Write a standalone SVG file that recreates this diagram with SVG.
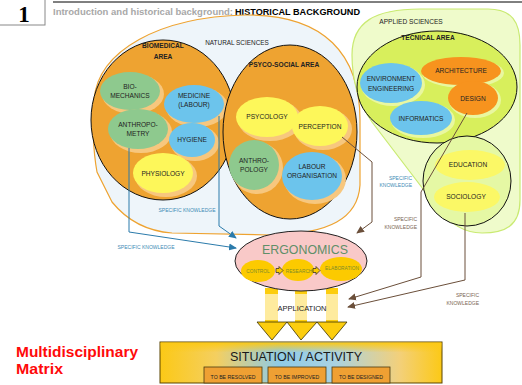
<svg xmlns="http://www.w3.org/2000/svg" width="522" height="385" viewBox="0 0 522 385">
<defs>
<style>
.t{font-family:"Liberation Sans",Arial,sans-serif;fill:#222;text-anchor:middle}
.n{font-size:6.6px}
.b{font-weight:bold}
.sk{font-family:"Liberation Sans",Arial,sans-serif;font-size:5px}
.blue{fill:#3d8bb5}
.brn{fill:#7a6552}
.bl{stroke:#2b7bab;stroke-width:1;fill:none}
.br{stroke:#6b4f3a;stroke-width:1;fill:none}
.area{fill:#eea331;stroke:#111;stroke-width:1}
.g{fill:#8ec98e}
.bu{fill:#6cc4ec}
.y{fill:#fdf75a}
.o{fill:#f7931e}
.halo{fill:#f7c77e}
.haloG{fill:#e9f7a0}
.sub{fill:#efa033;stroke:#4a3a10;stroke-width:0.8}
.et{font-family:"Liberation Sans",Arial,sans-serif;font-size:4.8px;fill:#7d8a2a;text-anchor:middle}
</style>
<marker id="ab" markerWidth="8" markerHeight="8" refX="7" refY="4" orient="auto" markerUnits="userSpaceOnUse"><path d="M0,0.5 L8,4 L0,7.5 Z" fill="#2b7bab"/></marker>
<marker id="aw" markerWidth="8" markerHeight="8" refX="7" refY="4" orient="auto" markerUnits="userSpaceOnUse"><path d="M0,0.5 L8,4 L0,7.5 Z" fill="#6b4f3a"/></marker>
<linearGradient id="sit" x1="0" y1="0" x2="1" y2="0">
<stop offset="0" stop-color="#fcc916"/>
<stop offset="0.2" stop-color="#f4cf60"/>
<stop offset="0.42" stop-color="#8fcbe6"/>
<stop offset="0.62" stop-color="#a9d2e2"/>
<stop offset="0.85" stop-color="#f3d07a"/>
<stop offset="1" stop-color="#fcc916"/>
</linearGradient>
<linearGradient id="sitv" x1="0" y1="0" x2="0" y2="1">
<stop offset="0" stop-color="#fcc916" stop-opacity="1"/>
<stop offset="1" stop-color="#fcc916" stop-opacity="0"/>
</linearGradient>
</defs>
<rect width="522" height="385" fill="#fff"/>

<!-- header -->
<g id="header">
<rect x="-1" y="-1" width="46" height="26" fill="#fff" stroke="#888" stroke-width="1"/>
<text x="24" y="22" font-family="Liberation Serif,serif" font-weight="bold" font-size="23" text-anchor="middle" fill="#000">1</text>
<line x1="53" y1="2" x2="522" y2="2" stroke="#000" stroke-width="1"/>
<text x="53" y="15" font-family="Liberation Sans,Arial,sans-serif" font-weight="bold" font-size="8.5" fill="#a8a8a8" textLength="180" lengthAdjust="spacingAndGlyphs">Introduction and historical background:</text>
<text x="235" y="15" font-family="Liberation Sans,Arial,sans-serif" font-weight="bold" font-size="8.5" fill="#000" textLength="125" lengthAdjust="spacingAndGlyphs">HISTORICAL BACKGROUND</text>
</g>

<!-- natural sciences -->
<g id="natural-sciences">
<path d="M94,100 C98,50 160,17 245,15 C325,14 360,55 360,120 L360,185 C358,218 330,234 270,235 L172,233 C145,231 125,218 112,202 L97,172 C93,150 92,120 94,100 Z" fill="#eef5fa" stroke="#eea331" stroke-width="1.2"/>
<text class="t n" x="237" y="45" style="font-size:6.4px">NATURAL SCIENCES</text>
</g>

<g id="biomedical-area">
<ellipse class="area" cx="163" cy="120" rx="72" ry="80"/>
<text class="t n b" x="163" y="48">BIOMEDICAL</text>
<text class="t n b" x="163" y="59">AREA</text>
</g>
<g id="biomechanics"><ellipse class="halo" cx="133" cy="94" rx="31" ry="20"/><ellipse class="g" cx="130" cy="91" rx="30" ry="19"/><text class="t n" x="130" y="89">BIO-</text><text class="t n" x="130" y="98">MECHANICS</text></g>
<g id="medicine"><ellipse class="halo" cx="197" cy="107" rx="31" ry="20"/><ellipse class="bu" cx="194" cy="104" rx="30" ry="19"/><text class="t n" x="194" y="98">MEDICINE</text><text class="t n" x="194" y="107">(LABOUR)</text></g>
<g id="anthropometry"><ellipse class="halo" cx="141" cy="132" rx="31" ry="21"/><ellipse class="g" cx="138" cy="129" rx="30" ry="20"/><text class="t n" x="138" y="127">ANTHROPO-</text><text class="t n" x="138" y="136">METRY</text></g>
<g id="hygiene"><ellipse class="halo" cx="195" cy="143" rx="24" ry="18"/><ellipse class="bu" cx="192" cy="140" rx="23" ry="17"/><text class="t n" x="192" y="142">HYGIENE</text></g>
<g id="physiology"><ellipse class="halo" cx="166" cy="176" rx="31" ry="21"/><ellipse class="y" cx="163" cy="173" rx="30" ry="20"/><text class="t n" x="163" y="176">PHYSIOLOGY</text></g>

<g id="psyco-social-area">
<ellipse class="area" cx="290" cy="132" rx="67" ry="87"/>
<text class="t n b" x="284" y="67">PSYCO-SOCIAL AREA</text>
</g>
<g id="psycology"><ellipse class="halo" cx="270" cy="120" rx="32" ry="21"/><ellipse class="y" cx="267" cy="117" rx="31" ry="20"/><text class="t n" x="267" y="119">PSYCOLOGY</text></g>
<g id="perception"><ellipse class="halo" cx="323" cy="129" rx="29" ry="21"/><ellipse class="y" cx="320" cy="126" rx="28" ry="20"/><text class="t n" x="320" y="129">PERCEPTION</text></g>
<g id="anthropology"><ellipse class="halo" cx="257" cy="168" rx="26" ry="26"/><ellipse class="g" cx="254" cy="165" rx="25" ry="25"/><text class="t n" x="254" y="163">ANTHRO-</text><text class="t n" x="254" y="172">POLOGY</text></g>
<g id="labour-organisation"><ellipse class="halo" cx="315" cy="179" rx="31" ry="25"/><ellipse class="bu" cx="312" cy="176" rx="30" ry="24"/><text class="t n" x="312" y="169">LABOUR</text><text class="t n" x="312" y="178">ORGANISATION</text></g>

<!-- applied sciences -->
<g id="applied-sciences">
<path d="M352,55 C352,22 375,9 420,9 L488,9 C512,9 520,22 520,45 L520,200 C520,226 505,233 482,233 C462,233 448,222 436,206 L372,122 C358,102 352,80 352,55 Z" fill="#effbcb" stroke="#c9ea72" stroke-width="1.2"/>
<text class="t n" x="411" y="24">APPLIED SCIENCES</text>
</g>
<g id="tecnical-area">
<ellipse cx="437" cy="87" rx="80" ry="56" fill="#d8ef5c" stroke="#111" stroke-width="1"/>
<text class="t n b" x="428" y="40">TECNICAL AREA</text>
</g>
<g id="architecture"><ellipse class="haloG" cx="463" cy="73" rx="41" ry="15"/><ellipse class="o" cx="461" cy="71" rx="40" ry="14"/><text class="t n" x="461" y="73">ARCHITECTURE</text></g>
<g id="environment-engineering"><ellipse class="haloG" cx="393" cy="85" rx="32" ry="21"/><ellipse class="bu" cx="391" cy="83" rx="31" ry="20"/><text class="t n" x="391" y="81">ENVIRONMENT</text><text class="t n" x="391" y="91">ENGINEERING</text></g>
<g id="design"><ellipse class="haloG" cx="475" cy="100" rx="26" ry="18"/><ellipse class="o" cx="473" cy="98" rx="25" ry="17"/><text class="t n" x="473" y="101">DESIGN</text></g>
<g id="informatics"><ellipse class="haloG" cx="423" cy="120" rx="32" ry="18"/><ellipse class="bu" cx="421" cy="118" rx="31" ry="17"/><text class="t n" x="421" y="121">INFORMATICS</text></g>

<g id="social-area">
<ellipse cx="467" cy="181" rx="44" ry="45" fill="#e5f8a4" stroke="#111" stroke-width="1"/>
</g>
<g id="education"><ellipse cx="470" cy="165" rx="35" ry="15" fill="#fbf866"/><text class="t n" x="468" y="167">EDUCATION</text></g>
<g id="sociology"><ellipse cx="467" cy="197" rx="33" ry="15" fill="#fbf866"/><text class="t n" x="466" y="199">SOCIOLOGY</text></g>

<!-- connectors -->
<g id="connectors">
<polyline class="bl" points="129,148 129,232 236,248" marker-end="url(#ab)"/>
<polyline class="bl" points="219,116 219,226 236,238" marker-end="url(#ab)"/>
<polyline class="br" points="342,137 372,162 372,222 357,233" marker-end="url(#aw)"/>
<polyline class="br" points="467,113 421,192 421,277 349,299" marker-end="url(#aw)"/>
<polyline class="br" points="465,213 465,280 348,307" marker-end="url(#aw)"/>
<text class="sk blue" x="187" y="212" text-anchor="middle">SPECIFIC KNOWLEDGE</text>
<text class="sk blue" x="146" y="249" text-anchor="middle">SPECIFIC KNOWLEDGE</text>
<text class="sk blue" x="412" y="180" text-anchor="end">SPECIFIC</text>
<text class="sk blue" x="412" y="187" text-anchor="end">KNOWLEDGE</text>
<text class="sk brn" x="417" y="221" text-anchor="end">SPECIFIC</text>
<text class="sk brn" x="417" y="229" text-anchor="end">KNOWLEDGE</text>
<text class="sk brn" x="479" y="297" text-anchor="end">SPECIFIC</text>
<text class="sk brn" x="479" y="305" text-anchor="end">KNOWLEDGE</text>
</g>

<!-- application bars -->
<g id="application">
<rect x="265" y="288" width="13" height="35" fill="#fccd0e"/>
<rect x="295" y="288" width="12" height="35" fill="#fccd0e"/>
<rect x="326" y="288" width="12" height="35" fill="#fccd0e"/>
<rect x="262" y="294" width="80" height="26" fill="#fff" opacity="0.6"/>
<path d="M257,322 L287,322 L272,340 Z M287,322 L317,322 L301,340 Z M317,322 L347,322 L332,340 Z" fill="#fccd0e" stroke="#3a3000" stroke-width="0.8" stroke-linejoin="round"/>
<text class="t" x="302" y="311" font-size="7.5" fill="#333">APPLICATION</text>
</g>

<g id="ergonomics">
<ellipse cx="301" cy="261" rx="66" ry="30" fill="#f9c9c8" stroke="#222" stroke-width="1"/>
<text x="305" y="254" font-family="Liberation Sans,Arial,sans-serif" font-size="13.5" fill="#5f8f68" text-anchor="middle" textLength="86" lengthAdjust="spacingAndGlyphs">ERGONOMICS</text>
<ellipse cx="258" cy="271" rx="17" ry="11" fill="#fcca00"/>
<ellipse cx="298" cy="270" rx="16" ry="11" fill="#fcca00"/>
<ellipse cx="341" cy="269" rx="21" ry="12" fill="#fcca00"/>
<text class="et" x="258" y="273">CONTROL</text>
<text class="et" x="299" y="273">RESEARCH</text>
<text class="et" x="342" y="270">ELABORATION</text>
<path d="M276,268.5 L279,268.5 L279,266.5 L283,270.5 L279,274.5 L279,272.5 L276,272.5 Z" fill="#fcca00" stroke="#222" stroke-width="0.7"/>
<path d="M313,268.5 L316,268.5 L316,266.5 L320,270.5 L316,274.5 L316,272.5 L313,272.5 Z" fill="#fcca00" stroke="#222" stroke-width="0.7"/>
</g>

<g id="situation-activity">
<rect x="160" y="342" width="282" height="41" fill="url(#sit)" stroke="#5a4500" stroke-width="1"/>
<rect x="160.5" y="342.5" width="281" height="10" fill="url(#sitv)"/>
<text x="296" y="361" font-family="Liberation Sans,Arial,sans-serif" font-size="13" fill="#1a1a1a" text-anchor="middle" textLength="132" lengthAdjust="spacingAndGlyphs">SITUATION / ACTIVITY</text>
<rect class="sub" x="204" y="367" width="58" height="16"/>
<rect class="sub" x="268" y="367" width="58" height="16"/>
<rect class="sub" x="332" y="367" width="58" height="16"/>
<text class="t" x="233" y="379" font-size="5.2">TO BE RESOLVED</text>
<text class="t" x="297" y="379" font-size="5.2">TO BE IMPROVED</text>
<text class="t" x="361" y="379" font-size="5.2">TO BE DESIGNED</text>
</g>

<g id="caption">
<text x="16" y="357" font-family="Liberation Sans,Arial,sans-serif" font-weight="bold" font-size="14" fill="#ff0a0a" textLength="122" lengthAdjust="spacingAndGlyphs">Multidisciplinary</text>
<text x="16" y="374" font-family="Liberation Sans,Arial,sans-serif" font-weight="bold" font-size="14" fill="#ff0a0a" textLength="47" lengthAdjust="spacingAndGlyphs">Matrix</text>
</g>
</svg>
